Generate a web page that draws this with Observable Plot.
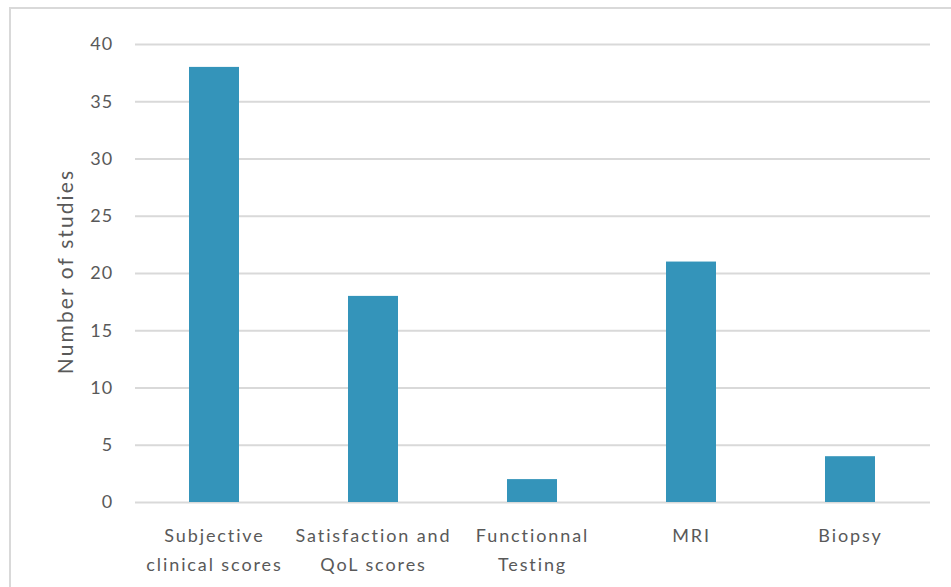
<!DOCTYPE html>
<html>
<head>
<meta charset="utf-8">
<script src="https://cdn.jsdelivr.net/npm/d3@7"></script>
<script src="https://cdn.jsdelivr.net/npm/@observablehq/plot@0.6"></script>
<style>
  html, body { margin: 0; padding: 0; background: #fff; }
  #wrap { position: relative; width: 951px; height: 587px; overflow: hidden; }
  #frame { position: absolute; left: 9px; top: 7px; width: 1000px; height: 1000px;
           border-top: 2px solid #d9d9d9; border-left: 2px solid #d9d9d9; box-sizing: border-box; }
  #chart { position: absolute; left: 0; top: 0; }
  .ticks-y text { letter-spacing: 1.2px; }
  .ticks-x text { letter-spacing: 1.9px; }
  .title-y text { letter-spacing: 2.1px; }
</style>
</head>
<body>
<div id="wrap"><div id="frame"></div><div id="chart"></div></div>
<script>
// Outcome measures and how many studies used each
const categories = ["Subjective\nclinical scores", "Satisfaction and\nQoL scores", "Functionnal\nTesting", "MRI", "Biopsy"];
const studies = [38, 18, 2, 21, 4];
const yTicks = [0, 5, 10, 15, 20, 25, 30, 35, 40];

const data = categories.map((c, i) => ({category: c, value: studies[i]}));

const font = "Lato, 'Open Sans', sans-serif";
const ink = "#595959";

const chart = Plot.plot({
  width: 951,
  height: 587,
  marginLeft: 135,
  marginRight: 21,
  marginTop: 44,
  marginBottom: 85,
  style: {fontFamily: font, background: "transparent"},
  x: {domain: categories, paddingInner: 0.685, paddingOuter: 0.3425, axis: null},
  y: {domain: [0, 40], axis: null},
  marks: [
    Plot.ruleY(yTicks, {stroke: "#d9d9d9", strokeWidth: 2}),
    Plot.barY(data, {x: "category", y: "value", fill: "#3494ba"}),
    Plot.axisY({
      ticks: yTicks, tickSize: 0, tickPadding: 22, fontSize: 18,
      color: ink, label: null, className: "ticks-y"
    }),
    Plot.axisX({
      tickSize: 0, tickPadding: 19, fontSize: 18, lineHeight: 1.6,
      color: ink, label: null, textAnchor: "middle", tickFormat: d => d,
      className: "ticks-x"
    }),
    Plot.text(["Number of studies"], {
      frameAnchor: "left", dx: -69, dy: -2, rotate: -90, className: "title-y",
      fill: ink, fontSize: 21, textAnchor: "middle"
    })
  ]
});
document.getElementById("chart").appendChild(chart);
</script>
</body>
</html>
